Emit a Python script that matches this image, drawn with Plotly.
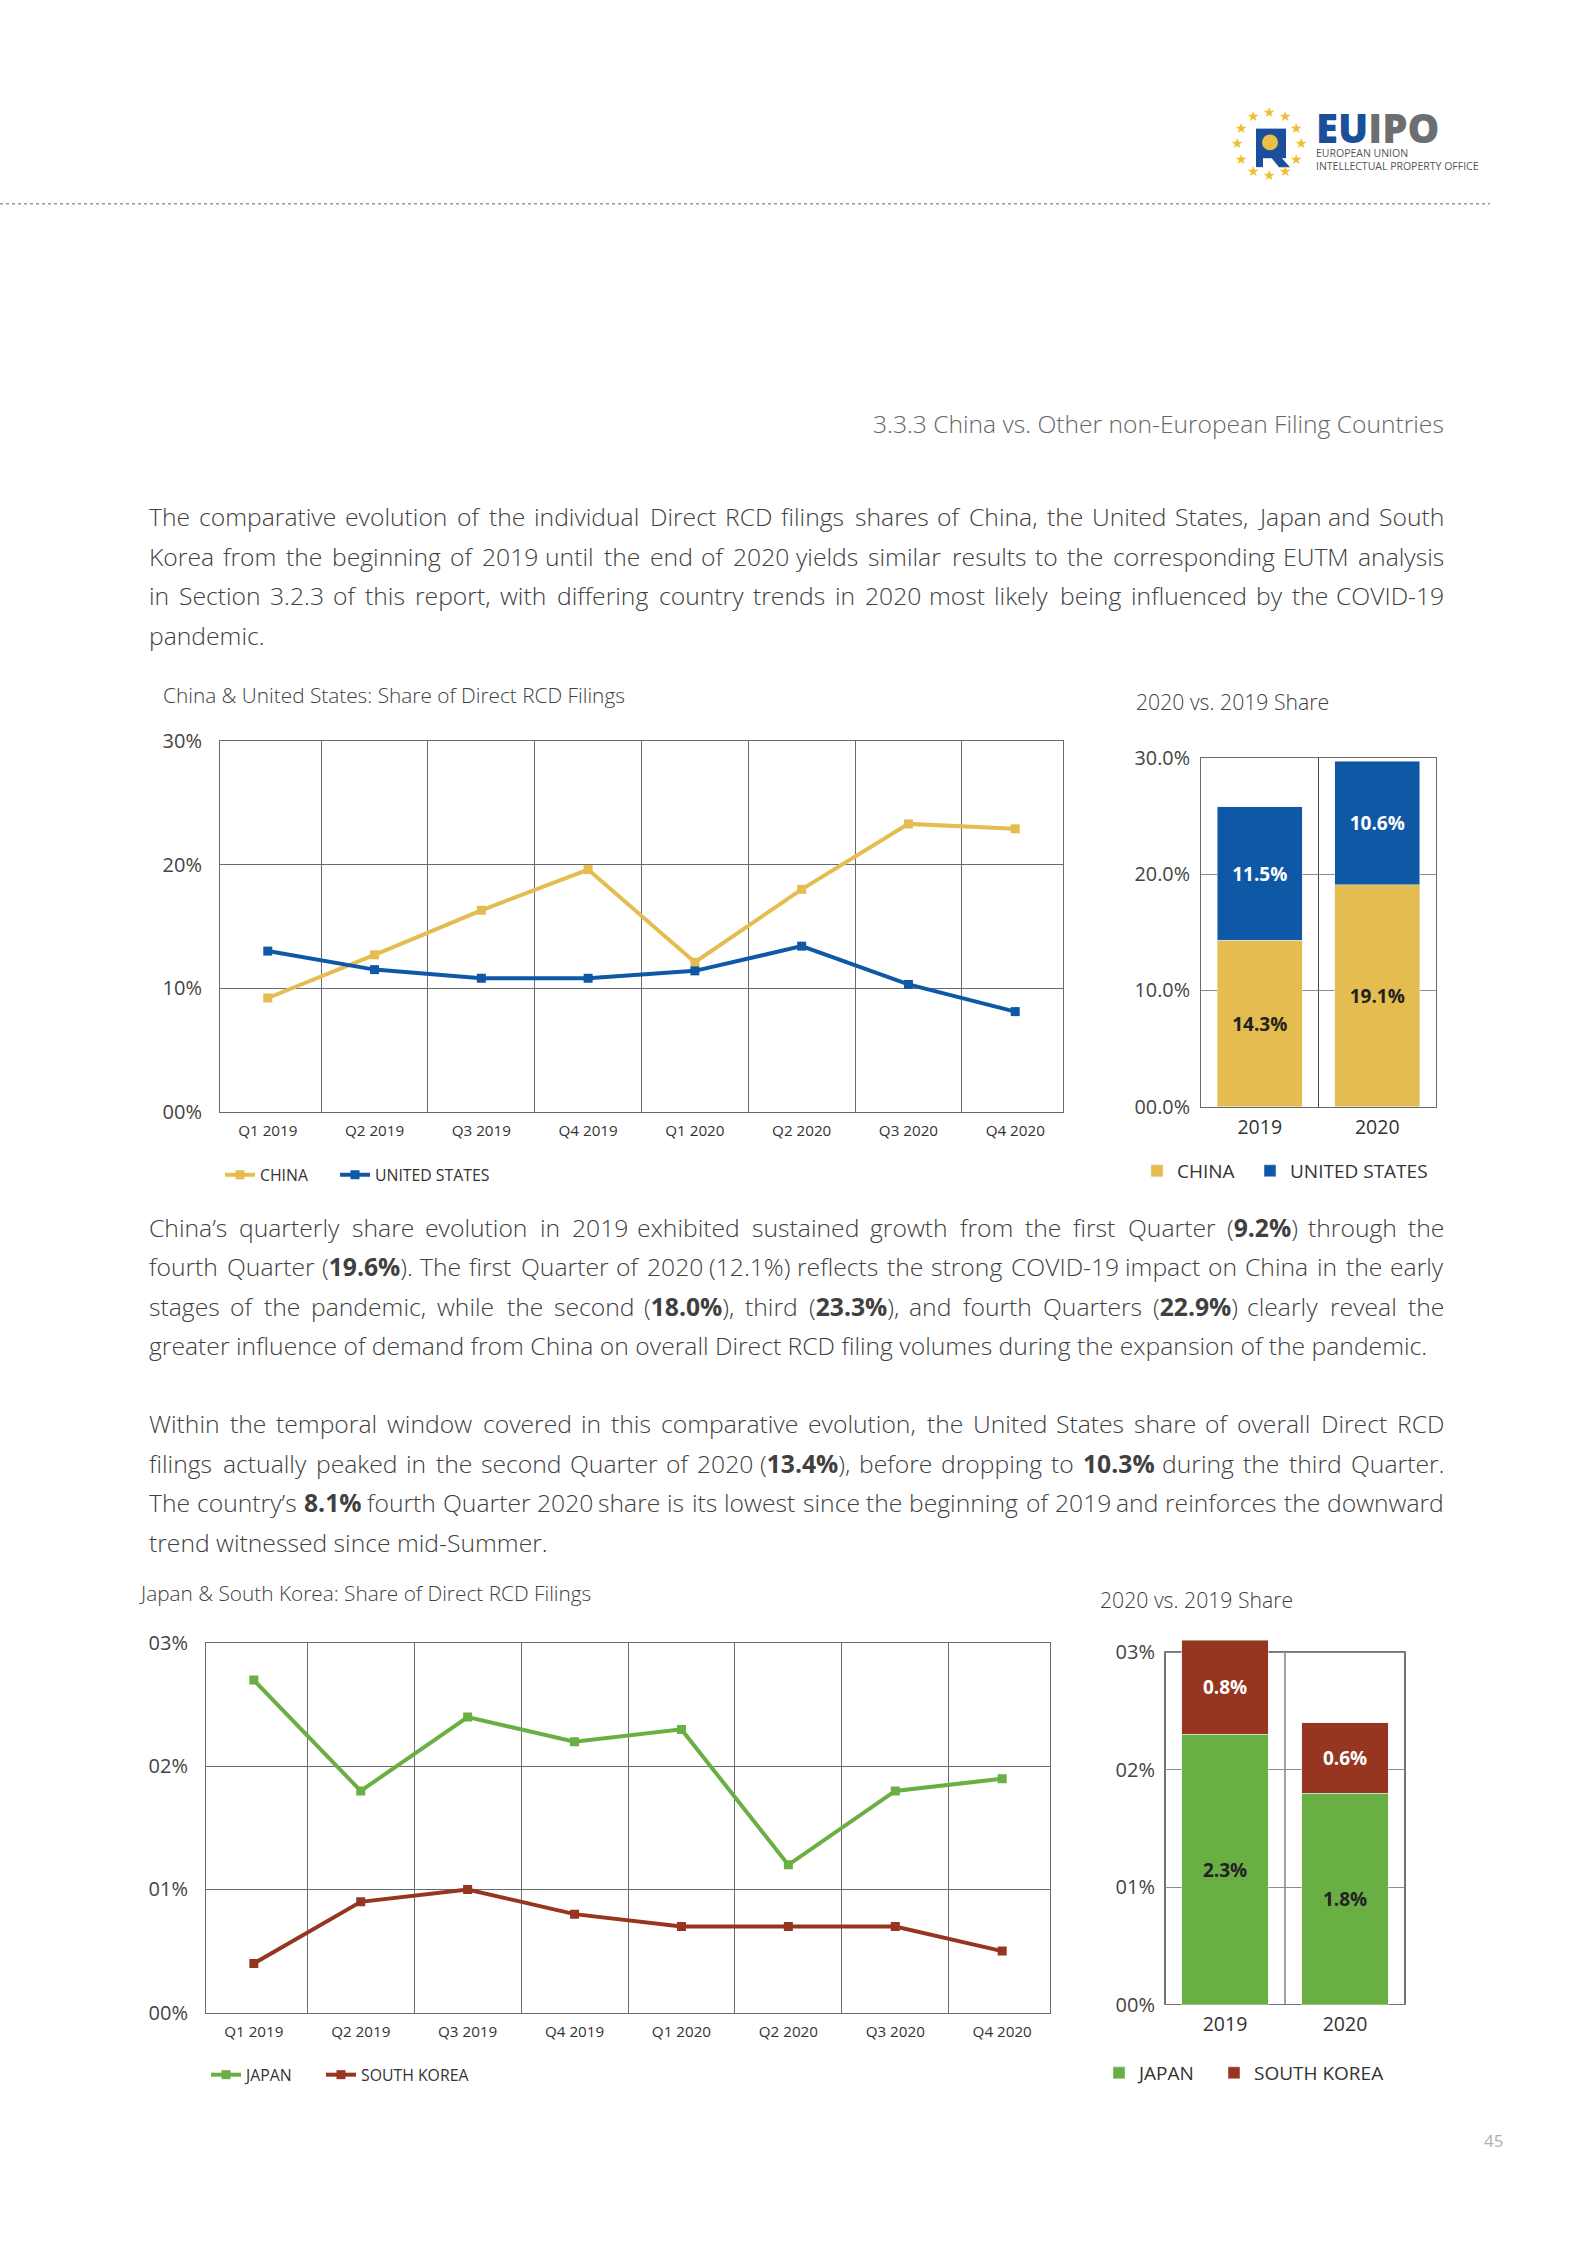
import math
import re
import plotly.graph_objects as go

W, H = 1587, 2245
def px(x): return x / W
def py(y): return 1 - y / H

# ---------------- data ----------------
quarters = ["Q1 2019", "Q2 2019", "Q3 2019", "Q4 2019", "Q1 2020", "Q2 2020", "Q3 2020", "Q4 2020"]
china = [9.2, 12.7, 16.3, 19.6, 12.1, 18.0, 23.3, 22.9]
united_states = [13.0, 11.5, 10.8, 10.8, 11.4, 13.4, 10.3, 8.1]
japan = [2.7, 1.8, 2.4, 2.2, 2.3, 1.2, 1.8, 1.9]
south_korea = [0.4, 0.9, 1.0, 0.8, 0.7, 0.7, 0.7, 0.5]

years = ["2019", "2020"]
china_year = [14.3, 19.1]
us_year = [11.5, 10.6]
japan_year = [2.3, 1.8]
korea_year = [0.8, 0.6]

cu_tickvals = [0, 10, 20, 30]
cu_ticktext = ["00%", "10%", "20%", "30%"]
cu_bar_ticktext = ["00.0%", "10.0%", "20.0%", "30.0%"]
jk_tickvals = [0, 1, 2, 3]
jk_ticktext = ["00%", "01%", "02%", "03%"]

# ---------------- style ----------------
FONT = "Open Sans"
C_CHINA = "#E5BC4F"
C_US = "#0F58A5"
C_JAPAN = "#6AAF44"
C_KOREA = "#973620"
TXT = "#404040"
GRID = "#6b6b6b"

fig = go.Figure()

line_kw = dict(mode="lines+markers", marker=dict(symbol="square", size=9), line=dict(width=4))
fig.add_trace(go.Scatter(x=quarters, y=china, name="CHINA", line_color=C_CHINA, marker_color=C_CHINA,
                         xaxis="x", yaxis="y", legend="legend", **line_kw))
fig.add_trace(go.Scatter(x=quarters, y=united_states, name="UNITED STATES", line_color=C_US, marker_color=C_US,
                         xaxis="x", yaxis="y", legend="legend2", **line_kw))

bar_kw = dict(textposition="inside", insidetextanchor="middle", texttemplate="%{y:.1f}%", textangle=0)
fig.add_trace(go.Bar(x=years, y=china_year, name="CHINA", marker_color=C_CHINA, xaxis="x2", yaxis="y2",
                     legend="legend3", textfont=dict(family=FONT, size=19, color="#222222", weight="bold"), **bar_kw))
fig.add_trace(go.Bar(x=years, y=us_year, name="UNITED STATES", marker_color=C_US, xaxis="x2", yaxis="y2",
                     legend="legend4", textfont=dict(family=FONT, size=19, color="white", weight="bold"), **bar_kw))

fig.add_trace(go.Scatter(x=quarters, y=japan, name="JAPAN", line_color=C_JAPAN, marker_color=C_JAPAN,
                         xaxis="x3", yaxis="y3", legend="legend5", **line_kw))
fig.add_trace(go.Scatter(x=quarters, y=south_korea, name="SOUTH KOREA", line_color=C_KOREA, marker_color=C_KOREA,
                         xaxis="x3", yaxis="y3", legend="legend6", **line_kw))

fig.add_trace(go.Bar(x=years, y=japan_year, name="JAPAN", marker_color=C_JAPAN, xaxis="x4", yaxis="y4",
                     legend="legend7", textfont=dict(family=FONT, size=19, color="#222222", weight="bold"), **bar_kw))
fig.add_trace(go.Bar(x=years, y=korea_year, name="SOUTH KOREA", marker_color=C_KOREA, xaxis="x4", yaxis="y4",
                     legend="legend8", textfont=dict(family=FONT, size=19, color="white", weight="bold"), **bar_kw))

def xcat(domain, anchor, fsize, standoff, gridcolor=GRID, showline=True, showgrid=True):
    return dict(domain=domain, anchor=anchor, type="category", tickson="boundaries", showgrid=showgrid,
                gridcolor=gridcolor, gridwidth=1, showline=showline, mirror=True, linecolor=GRID, linewidth=1,
                ticks="", tickfont=dict(family=FONT, size=fsize, color="#333333"), ticklabelstandoff=standoff,
                fixedrange=True)

def ylin(domain, anchor, rng, vals, texts, fsize, standoff, gridcolor=GRID, showline=True):
    return dict(domain=domain, anchor=anchor, range=rng, tickvals=vals, ticktext=texts, showgrid=True,
                gridcolor=gridcolor, gridwidth=1, zeroline=False, showline=showline, mirror=True, linecolor=GRID,
                linewidth=1, ticks="", tickfont=dict(family=FONT, size=fsize, color="#444444"),
                ticklabelstandoff=standoff, fixedrange=True)

# plot areas (pixels)
c1 = dict(l=220, r=1063, t=736, b=1111)
c2 = dict(l=1201, r=1436, t=753, b=1106)
c3 = dict(l=206, r=1050, t=1649, b=2023)
c4 = dict(l=1165, r=1405, t3=1658, b=2015)
c4_top = 3.12
c4["t"] = c4["b"] - c4_top * (c4["b"] - c4["t3"]) / 3

def dom(c):
    return [px(c["l"]), px(c["r"])], [py(c["b"]), py(c["t"])]

d1x, d1y = dom(c1)
d2x, d2y = dom(c2)
d3x, d3y = dom(c3)
d4x, d4y = dom(c4)

def leg(x, y, size):
    return dict(x=px(x), y=py(y), orientation="h", yanchor="middle", xanchor="left", bgcolor="rgba(0,0,0,0)",
                font=dict(family=FONT, size=size, color="#333333"), itemclick=False, itemdoubleclick=False)

LINE_OFF = 6
BAR_OFF = 17
fig.update_layout(
    width=W, height=H, margin=dict(l=0, r=0, t=0, b=0),
    paper_bgcolor="white", plot_bgcolor="white",
    font=dict(family=FONT, color=TXT),
    showlegend=True,
    barmode="stack", bargap=0.28,
    xaxis=xcat(d1x, "y", 15.2, 5),
    yaxis=ylin(d1y, "x", [0, 30], cu_tickvals, cu_ticktext, 20, 13),
    xaxis2=xcat(d2x, "y2", 19.5, 3, gridcolor="#444444"),
    yaxis2=ylin(d2y, "x2", [0, 30], cu_tickvals, cu_bar_ticktext, 19.8, 6, gridcolor="#8a8a8a"),
    xaxis3=xcat(d3x, "y3", 15.2, 5),
    yaxis3=ylin(d3y, "x3", [0, 3], jk_tickvals, jk_ticktext, 20, 13),
    xaxis4=xcat(d4x, "y4", 19.5, 6, showline=False, showgrid=False),
    yaxis4=ylin(d4y, "x4", [0, c4_top], jk_tickvals, jk_ticktext, 20, 9, gridcolor="#8a8a8a", showline=False),
    legend=leg(226 - LINE_OFF, 1175, 15.8),
    legend2=leg(341 - LINE_OFF, 1175, 15.8),
    legend3=leg(1154 - BAR_OFF, 1171, 19),
    legend4=leg(1267 - BAR_OFF, 1171, 19),
    legend5=leg(212 - LINE_OFF, 2086, 15.8),
    legend6=leg(327 - LINE_OFF, 2086, 15.8),
    legend7=leg(1116 - BAR_OFF, 2084, 19),
    legend8=leg(1231 - BAR_OFF, 2084, 19),
)

shapes = []
# dotted header rule
shapes.append(dict(type="line", xref="paper", yref="paper", x0=0, x1=px(1490), y0=py(192), y1=py(192),
                   line=dict(color="#9a9a9a", width=1.5, dash="dot")))
# frame for chart 4 (box up to 3%) and middle divider
shapes.append(dict(type="rect", xref="x4 domain", yref="y4", x0=0, x1=1, y0=0, y1=3, layer="below",
                   line=dict(color="#444444", width=1.5)))
shapes.append(dict(type="line", xref="x4", yref="y4", x0=0.5, x1=0.5, y0=0, y1=3, layer="below",
                   line=dict(color="#444444", width=1)))

# logo: R mark
def prect(x0, y0, x1, y1, color):
    return dict(type="rect", xref="paper", yref="paper", x0=px(x0), x1=px(x1), y0=py(y1), y1=py(y0),
                fillcolor=color, line=dict(width=0))
def ppath(points, color):
    d = "M " + " L ".join(f"{px(a):.5f},{py(b):.5f}" for a, b in points) + " Z"
    return dict(type="path", xref="paper", yref="paper", path=d, fillcolor=color, line=dict(width=0))

LOGO_BLUE = "#1B4E9B"
shapes.append(prect(1256, 116, 1286, 146, LOGO_BLUE))
shapes.append(prect(1256, 145, 1263, 155, LOGO_BLUE))
shapes.append(ppath([(1271, 145), (1281, 145), (1290, 155), (1279, 155)], LOGO_BLUE))
shapes.append(dict(type="circle", xref="paper", yref="paper", x0=px(1262), x1=px(1278), y0=py(138), y1=py(122),
                   fillcolor="#E9BF45", line=dict(width=0)))
fig.update_layout(shapes=shapes)

ann = []
def text(x, y, s, size, color=TXT, xanchor="left", yanchor="middle", weight=None, family=FONT, align="left"):
    f = dict(size=size, color=color, family=family)
    if weight is not None:
        f["weight"] = weight
    ann.append(dict(x=px(x), y=py(y), xref="paper", yref="paper", text=s, showarrow=False, align=align,
                    xanchor=xanchor, yanchor=yanchor, font=f, borderpad=0, borderwidth=0))

# logo stars and words (one text block so the stacked lines share a box)
for k in range(12):
    a = math.radians(k * 30)
    text(1269 + 32 * math.sin(a), 131 - 32 * math.cos(a), "★", 14, color="#F0C02C", xanchor="center",
         family="DejaVu Sans")
logo_text = ("<span style='font-size:40px;font-weight:800'><span style='color:#1B4E9B'>EU</span>"
             "<span style='color:#6d6e71'>IPO</span></span>"
             "<br>EUROPEAN UNION<br>INTELLECTUAL PROPERTY OFFICE")
text(1316, 161, logo_text, 10.5, color="#555555", yanchor="bottom")

# section heading
text(1444, 414, "3.3.3 China vs. Other non-European Filing Countries", 24.6, color="#666666", xanchor="right", weight=300)

# ---------- justified body text ----------
ADV = {" ": 532, "(": 592, ")": 592, ",": 502, "-": 659, ".": 545, ":": 545, "%": 1663, "’": 367,
       "A": 1296, "B": 1327, "C": 1292, "D": 1493, "E": 1139, "F": 1057, "G": 1491, "H": 1511, "I": 571,
       "J": 547, "K": 1257, "L": 1073, "M": 1849, "N": 1589, "O": 1599, "P": 1255, "Q": 1599, "R": 1298,
       "S": 1124, "T": 1133, "U": 1507, "V": 1220, "W": 1886, "X": 1182, "Y": 1154, "Z": 1143,
       "a": 1139, "b": 1255, "c": 975, "d": 1255, "e": 1149, "f": 694, "g": 1122, "h": 1257, "i": 518,
       "j": 518, "k": 1075, "l": 518, "m": 1905, "n": 1257, "o": 1237, "p": 1255, "q": 1255, "r": 836,
       "s": 977, "t": 723, "u": 1257, "v": 1026, "w": 1593, "x": 1073, "y": 1028, "z": 977}
CAL = 0.956

def est_width(s, size):
    total = 0.0
    bold = False
    for tok in re.split(r"(<b>|</b>)", s):
        if tok == "<b>":
            bold = True
            continue
        if tok == "</b>":
            bold = False
            continue
        for ch in tok:
            w = ADV.get(ch, 1171 if ch.isdigit() else 1100)
            total += w * (1.06 if bold else 1.0)
    return total / 2048 * size * CAL

BODY = 24.7
LEFT, RIGHT = 149, 1444

def justified(lines, y0, step=40):
    for i, s in enumerate(lines):
        y = y0 + step * i
        if i == len(lines) - 1:
            text(LEFT, y, s, BODY, weight=300)
            continue
        words = s.split(" ")
        widths = [est_width(w, BODY) for w in words]
        gap = (RIGHT - LEFT - sum(widths)) / (len(words) - 1)
        x = LEFT
        for j, (w, ww) in enumerate(zip(words, widths)):
            if j == len(words) - 1:
                text(RIGHT, y, w, BODY, weight=300, xanchor="right")
            else:
                text(x, y, w, BODY, weight=300)
            x += ww + gap

p1 = [
    "The comparative evolution of the individual Direct RCD filings shares of China, the United States, Japan and South",
    "Korea from the beginning of 2019 until the end of 2020 yields similar results to the corresponding EUTM analysis",
    "in Section 3.2.3 of this report, with differing country trends in 2020 most likely being influenced by the COVID-19",
    "pandemic.",
]
p2 = [
    "China’s quarterly share evolution in 2019 exhibited sustained growth from the first Quarter (<b>9.2%</b>) through the",
    "fourth Quarter (<b>19.6%</b>). The first Quarter of 2020 (12.1%) reflects the strong COVID-19 impact on China in the early",
    "stages of the pandemic, while the second (<b>18.0%</b>), third (<b>23.3%</b>), and fourth Quarters (<b>22.9%</b>) clearly reveal the",
    "greater influence of demand from China on overall Direct RCD filing volumes during the expansion of the pandemic.",
]
p3 = [
    "Within the temporal window covered in this comparative evolution, the United States share of overall Direct RCD",
    "filings actually peaked in the second Quarter of 2020 (<b>13.4%</b>), before dropping to <b>10.3%</b> during the third Quarter.",
    "The country’s <b>8.1%</b> fourth Quarter 2020 share is its lowest since the beginning of 2019 and reinforces the downward",
    "trend witnessed since mid-Summer.",
]
justified(p1, 509)
justified(p2, 1228)
justified(p3, 1427)

# chart titles
text(163, 689, "China &amp; United States: Share of Direct RCD Filings", 20.8, weight=300)
text(1136, 696, "2020 vs. 2019 Share", 21.2, weight=300)
text(139, 1598, "Japan &amp; South Korea: Share of Direct RCD Filings", 20.8, weight=300)
text(1100, 1605, "2020 vs. 2019 Share", 21.2, weight=300)

# page number
text(1493, 2152, "45", 17, color="#b0b0b0", xanchor="center")

fig.update_layout(annotations=ann)
fig.write_html(
    "out.html",
    config={"displayModeBar": False},
    post_script=(
        "document.documentElement.style.margin='0';document.body.style.margin='0';"
        "document.body.style.overflow='hidden';"
        "var g=document.getElementsByClassName('plotly-graph-div')[0];"
        "g.style.position='absolute';g.style.left='0px';g.style.top='0px';"
    ),
)
